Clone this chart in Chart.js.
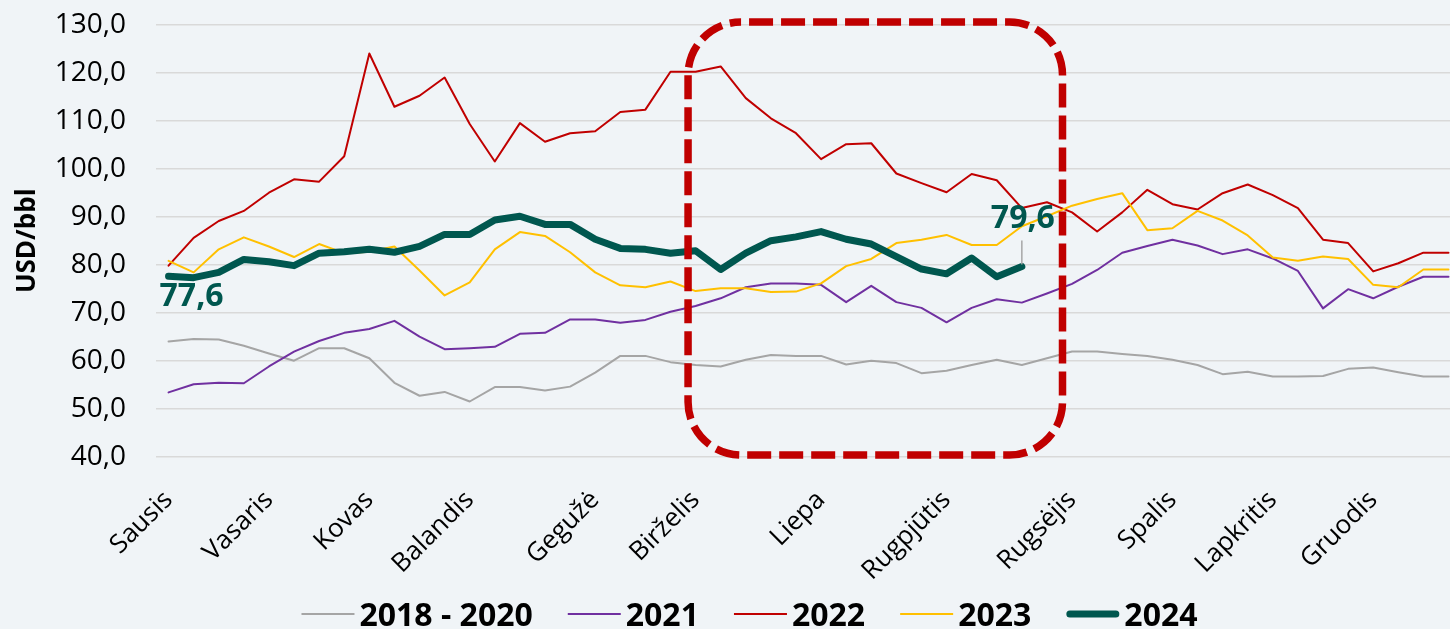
<!DOCTYPE html>
<html>
<head>
<meta charset="utf-8">
<title>Naftos kaina, USD/bbl</title>
<script src="https://cdn.jsdelivr.net/npm/chart.js@4.4.1/dist/chart.umd.min.js"></script>
<style>
  html, body { margin: 0; padding: 0; background: #F0F4F7; }
  #wrap { width: 1450px; height: 629px; }
</style>
</head>
<body>
<div id="wrap"><canvas id="c" width="1450" height="629"></canvas></div>
<script>
// Month names shown on the weekly axis and the week each one starts at
const monthNames = ['Sausis', 'Vasaris', 'Kovas', 'Balandis', 'Gegužė', 'Birželis',
                    'Liepa', 'Rugpjūtis', 'Rugsėjis', 'Spalis', 'Lapkritis', 'Gruodis'];
const monthStartWeek = [0, 4, 8, 12, 17, 21, 26, 31, 36, 40, 44, 48];

// Weekly prices, USD/bbl
const avg2018to2020 = [64.0, 64.5, 64.4, 63.1, 61.5, 60.0, 62.6, 62.6, 60.5, 55.4,
                       52.7, 53.5, 51.5, 54.5, 54.5, 53.8, 54.6, 57.5, 61.0, 61.0,
                       59.7, 59.1, 58.8, 60.2, 61.2, 61.0, 61.0, 59.2, 60.0, 59.5,
                       57.4, 57.9, 59.1, 60.2, 59.1, 60.5, 61.9, 61.9, 61.4, 61.0,
                       60.2, 59.1, 57.2, 57.7, 56.7, 56.7, 56.8, 58.3, 58.6, 57.6,
                       56.7, 56.7];
const prices2021 = [53.4, 55.1, 55.4, 55.3, 58.8, 61.9, 64.1, 65.8, 66.6, 68.3,
                    65.0, 62.4, 62.6, 62.9, 65.6, 65.8, 68.6, 68.6, 67.9, 68.5,
                    70.2, 71.4, 73.0, 75.3, 76.1, 76.1, 75.8, 72.2, 75.6, 72.2,
                    71.0, 68.0, 71.0, 72.8, 72.1, 74.0, 76.0, 78.9, 82.5, 83.9,
                    85.2, 84.0, 82.2, 83.2, 81.3, 78.7, 70.9, 74.9, 73.0, 75.4,
                    77.5, 77.5];
const prices2022 = [79.8, 85.6, 89.1, 91.2, 95.0, 97.8, 97.3, 102.6, 124.0, 112.9,
                    115.2, 119.0, 109.3, 101.5, 109.5, 105.6, 107.4, 107.8, 111.8, 112.3,
                    120.2, 120.2, 121.3, 114.7, 110.5, 107.4, 102.0, 105.1, 105.3, 99.0,
                    97.0, 95.1, 98.9, 97.6, 91.8, 93.0, 90.9, 86.9, 90.9, 95.6,
                    92.6, 91.5, 94.9, 96.7, 94.5, 91.8, 85.2, 84.5, 78.6, 80.3,
                    82.5, 82.5];
const prices2023 = [80.8, 78.4, 83.2, 85.7, 83.8, 81.6, 84.3, 82.4, 82.7, 83.8,
                    78.8, 73.6, 76.3, 83.2, 86.8, 86.0, 82.6, 78.4, 75.7, 75.3,
                    76.5, 74.5, 75.1, 75.1, 74.3, 74.4, 76.1, 79.7, 81.2, 84.5,
                    85.2, 86.2, 84.1, 84.1, 88.0, 90.1, 92.3, 93.7, 94.9, 87.2,
                    87.6, 91.2, 89.2, 86.1, 81.5, 80.8, 81.7, 81.2, 75.8, 75.3,
                    79.0, 79.0];
const prices2024 = [77.6, 77.3, 78.4, 81.1, 80.6, 79.8, 82.4, 82.7, 83.2, 82.6,
                    83.8, 86.3, 86.3, 89.3, 90.1, 88.4, 88.4, 85.3, 83.4, 83.2,
                    82.4, 82.9, 79.0, 82.4, 85.0, 85.8, 86.9, 85.3, 84.3, 81.7,
                    79.1, 78.1, 81.4, 77.5, 79.6];

// Value axis range
const yMin = 40, yMax = 130, yStep = 10;

// Series names and colours
const seriesNames = ['2018 - 2020', '2021', '2022', '2023', '2024'];
const seriesColors = ['#A5A5A5', '#7030A0', '#C00000', '#FFC000', '#00574F'];

const FONT = '"Open Sans", "DejaVu Sans", sans-serif';
const fmt = v => v.toFixed(1).replace('.', ',');
const toPoints = arr => arr.map((y, x) => ({ x, y }));

// Highlighted period (week range and value range of the dashed frame)
const frame = { fromWeek: 20.7, toWeek: 35.62, top: 130.56, bottom: 40.35, radius: 53 };

const canvasBackground = {
  id: 'canvasBackground',
  beforeDraw(chart) {
    const { ctx, width, height } = chart;
    ctx.save();
    ctx.fillStyle = '#F0F4F7';
    ctx.fillRect(0, 0, width, height);
    ctx.restore();
  }
};

// Dashed rounded frame around the summer weeks
const periodFrame = {
  id: 'periodFrame',
  afterDatasetsDraw(chart) {
    const { ctx, scales: { x, y } } = chart;
    const x0 = x.getPixelForValue(frame.fromWeek);
    const x1 = x.getPixelForValue(frame.toWeek);
    const y0 = y.getPixelForValue(frame.top);
    const y1 = y.getPixelForValue(frame.bottom);
    const r = frame.radius;
    ctx.save();
    ctx.strokeStyle = '#C00000';
    ctx.lineWidth = 7.5;
    ctx.setLineDash([24, 8]);
    ctx.lineDashOffset = 24;
    ctx.beginPath();
    ctx.moveTo(x0 + r, y0);
    ctx.lineTo(x1 - r, y0);
    ctx.arcTo(x1, y0, x1, y0 + r, r);
    ctx.lineTo(x1, y1 - r);
    ctx.arcTo(x1, y1, x1 - r, y1, r);
    ctx.lineTo(x0 + r, y1);
    ctx.arcTo(x0, y1, x0, y1 - r, r);
    ctx.lineTo(x0, y0 + r);
    ctx.arcTo(x0, y0, x0 + r, y0, r);
    ctx.closePath();
    ctx.stroke();
    ctx.restore();
  }
};

// First and latest value of the current year
const endLabels = {
  id: 'endLabels',
  afterDatasetsDraw(chart) {
    const { ctx } = chart;
    const dsIndex = chart.data.datasets.findIndex(d => d.label === '2024');
    const meta = chart.getDatasetMeta(dsIndex);
    const pts = meta.data;
    const first = pts[0], last = pts[pts.length - 1];
    ctx.save();
    ctx.font = 'bold 32px ' + FONT;
    ctx.fillStyle = '#00574F';
    ctx.textAlign = 'center';
    ctx.textBaseline = 'alphabetic';
    ctx.fillText(fmt(prices2024[0]), first.x + 23, first.y + 30);
    // leader line to the latest point
    ctx.strokeStyle = '#A6A6A6';
    ctx.lineWidth = 1.5;
    ctx.beginPath();
    ctx.moveTo(last.x, last.y - 26);
    ctx.lineTo(last.x, last.y - 2);
    ctx.stroke();
    ctx.fillText(fmt(prices2024[prices2024.length - 1]), last.x + 1, last.y - 39);
    ctx.restore();
  }
};

// Series key along the bottom
const seriesKey = {
  id: 'seriesKey',
  afterDraw(chart) {
    const { ctx } = chart;
    const lineLen = 53, gap = 5, spacing = 35, centerX = 749.5, lineY = 614, baseY = 626;
    ctx.save();
    ctx.font = 'bold 32px ' + FONT;
    const items = chart.data.datasets.map(d => ({
      text: d.label, color: d.borderColor, width: d.borderWidth,
      tw: ctx.measureText(d.label).width
    }));
    const total = items.reduce((s, it) => s + lineLen + gap + it.tw, 0) + spacing * (items.length - 1);
    let cx = centerX - total / 2;
    items.forEach(it => {
      ctx.strokeStyle = it.color;
      ctx.setLineDash([]);
      ctx.beginPath();
      if (it.width > 3) {
        ctx.lineWidth = 7;
        ctx.lineCap = 'round';
        ctx.moveTo(cx + 3.5, lineY);
        ctx.lineTo(cx + lineLen - 3.5, lineY);
      } else {
        ctx.lineWidth = 2;
        ctx.lineCap = 'butt';
        ctx.moveTo(cx, lineY);
        ctx.lineTo(cx + lineLen, lineY);
      }
      ctx.stroke();
      ctx.fillStyle = '#000000';
      ctx.textAlign = 'left';
      ctx.textBaseline = 'alphabetic';
      ctx.fillText(it.text, cx + lineLen + gap, baseY);
      cx += lineLen + gap + it.tw + spacing;
    });
    ctx.restore();
  }
};

const seriesData = [avg2018to2020, prices2021, prices2022, prices2023, prices2024];
const datasets = seriesNames.map((name, i) => ({
  label: name,
  data: toPoints(seriesData[i]),
  borderColor: seriesColors[i],
  backgroundColor: seriesColors[i],
  borderWidth: name === '2024' ? 7 : 2,
  borderCapStyle: 'round',
  borderJoinStyle: 'round',
  pointRadius: 0,
  pointHoverRadius: 0,
  tension: 0,
  fill: false,
  order: seriesNames.length - 1 - i
}));

Chart.defaults.font.family = FONT;
Chart.defaults.color = '#000000';

new Chart(document.getElementById('c'), {
  type: 'line',
  data: { datasets },
  options: {
    responsive: false,
    devicePixelRatio: 1,
    animation: false,
    events: [],
    layout: { padding: { top: 24.7, right: 0, bottom: 0, left: 0 } },
    plugins: {
      legend: { display: false },
      tooltip: { enabled: false }
    },
    scales: {
      x: {
        type: 'linear',
        min: -0.5,
        max: 51.06,
        grid: { display: false, drawTicks: false },
        border: { display: false },
        afterBuildTicks: scale => {
          scale.ticks = monthStartWeek.map(v => ({ value: v }));
        },
        afterFit: scale => {
          scale.height = 172.3;
          scale.paddingLeft = 0;
          scale.paddingRight = 0;
        },
        ticks: {
          autoSkip: false,
          minRotation: 45,
          maxRotation: 45,
          padding: 28,
          font: { size: 26 },
          color: '#000000',
          callback: value => monthNames[monthStartWeek.indexOf(value)] ?? ''
        }
      },
      y: {
        min: yMin,
        max: yMax,
        grid: { color: '#D9D9D9', lineWidth: 1.5, drawTicks: false },
        border: { display: false },
        afterFit: scale => {
          scale.width = 156;
          scale.paddingTop = 0;
          scale.paddingBottom = 0;
        },
        ticks: {
          stepSize: yStep,
          padding: 30,
          font: { size: 28 },
          color: '#000000',
          callback: v => fmt(v)
        },
        title: {
          display: true,
          text: 'USD/bbl',
          color: '#000000',
          font: { size: 26, weight: 'bold' },
          padding: { top: 12, bottom: 0 }
        }
      }
    }
  },
  plugins: [canvasBackground, periodFrame, endLabels, seriesKey]
});
</script>
</body>
</html>
